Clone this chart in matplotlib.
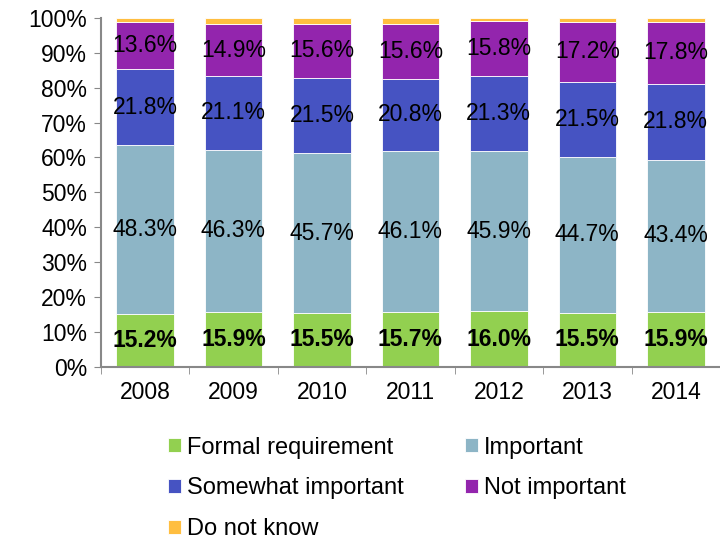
import numpy as np
import matplotlib.pyplot as plt
from matplotlib.ticker import PercentFormatter

plt.rcParams['font.family'] = ['Liberation Sans', 'DejaVu Sans']

years = ['2008', '2009', '2010', '2011', '2012', '2013', '2014']
formal = [15.2, 15.9, 15.5, 15.7, 16.0, 15.5, 15.9]
important = [48.3, 46.3, 45.7, 46.1, 45.9, 44.7, 43.4]
somewhat = [21.8, 21.1, 21.5, 20.8, 21.3, 21.5, 21.8]
not_important = [13.6, 14.9, 15.6, 15.6, 15.8, 17.2, 17.8]
dont_know = [1.1, 1.8, 1.7, 1.8, 1.0, 1.1, 1.1]

series = [
    ('Formal requirement', formal, '#92D050'),
    ('Important', important, '#8DB5C6'),
    ('Somewhat important', somewhat, '#4653C2'),
    ('Not important', not_important, '#9325AD'),
    ('Do not know', dont_know, '#FFBE40'),
]

fig = plt.figure(figsize=(7.2, 5.39), dpi=100)
ax = fig.add_axes([0.140, 0.319, 0.860, 0.648])

x = np.arange(len(years))
bottom = np.zeros(len(years))
handles = []
for i, (name, vals, col) in enumerate(series):
    vals = np.array(vals)
    h = ax.bar(x, vals, 0.65, bottom=bottom, color=col, label=name,
               edgecolor='white', linewidth=0.6)
    handles.append(h)
    if i < 4:
        for xi, b, v in zip(x, bottom, vals):
            ax.text(xi, b + v / 2, f'{v:.1f}%', ha='center', va='center',
                    fontsize=16.5, fontweight='bold' if i == 0 else 'normal')
    bottom += vals

ax.set_xlim(-0.5, len(years) - 0.5)
ax.set_ylim(0, 100)
ax.set_yticks(np.arange(0, 101, 10))
ax.yaxis.set_major_formatter(PercentFormatter(decimals=0))
ax.set_xticks(x)
ax.set_xticklabels(years)
ax.set_xticks(np.arange(-0.5, len(years), 1), minor=True)
ax.tick_params(axis='x', which='major', length=0, labelsize=16.5, pad=10)
ax.tick_params(axis='x', which='minor', length=5, color='#888888')
ax.tick_params(axis='y', length=5, color='#888888', labelsize=16.5, pad=5)

for s in ['top', 'right']:
    ax.spines[s].set_visible(False)
for s in ['left', 'bottom']:
    ax.spines[s].set_color('#888888')
    ax.spines[s].set_linewidth(1.5)

# legend filled row by row: two entries per row
order = [0, 2, 4, 1, 3]
ax.legend([handles[k] for k in order], [series[k][0] for k in order],
          loc='upper left', bbox_to_anchor=(0.094, -0.172), ncol=2,
          frameon=False, fontsize=17, handlelength=0.55, handleheight=0.55,
          handletextpad=0.25, columnspacing=2.6, labelspacing=0.8,
          borderaxespad=0)

fig.savefig('out.png', dpi=100)
